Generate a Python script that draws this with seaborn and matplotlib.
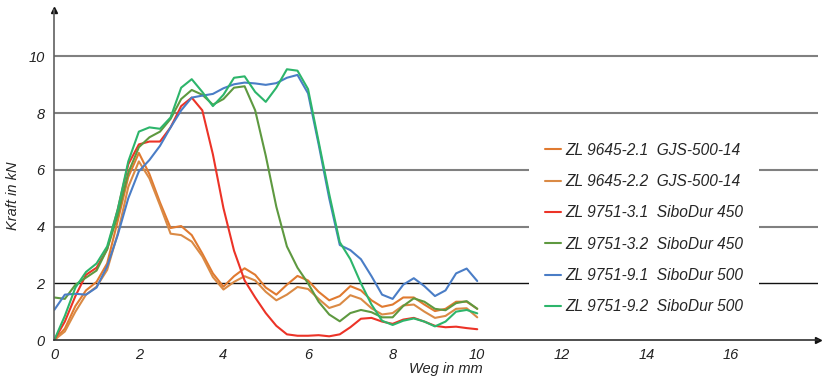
import numpy as np
import pandas as pd
import matplotlib
matplotlib.use("Agg")
import matplotlib.pyplot as plt
import seaborn as sns

# ---------------- data ----------------
weg = [0.0, 0.25, 0.5, 0.75, 1.0, 1.25, 1.5, 1.75, 2.0, 2.25, 2.5, 2.75, 3.0, 3.25,
       3.5, 3.75, 4.0, 4.25, 4.5, 4.75, 5.0, 5.25, 5.5, 5.75, 6.0, 6.25, 6.5, 6.75,
       7.0, 7.25, 7.5, 7.75, 8.0, 8.25, 8.5, 8.75, 9.0, 9.25, 9.5, 9.75, 10.0]

zl_9645_21 = [0.0, 0.4, 1.2, 1.75, 2.05, 2.7, 4.2, 5.75, 6.6, 5.85, 4.85, 3.95, 4.02, 3.7,
              3.05, 2.35, 1.88, 2.25, 2.53, 2.3, 1.85, 1.6, 1.95, 2.26, 2.1, 1.7, 1.4, 1.55,
              1.9, 1.75, 1.4, 1.17, 1.25, 1.5, 1.5, 1.25, 1.02, 1.1, 1.35, 1.35, 1.1]
zl_9645_22 = [0.0, 0.3, 1.0, 1.6, 1.88, 2.47, 3.75, 5.4, 6.3, 5.7, 4.75, 3.75, 3.7, 3.47,
              2.95, 2.22, 1.78, 2.05, 2.25, 2.1, 1.7, 1.4, 1.6, 1.87, 1.8, 1.45, 1.13, 1.25,
              1.58, 1.45, 1.12, 0.9, 0.95, 1.22, 1.25, 1.0, 0.78, 0.85, 1.1, 1.12, 0.8]
zl_9751_31 = [0.0, 0.65, 1.55, 2.3, 2.55, 3.2, 4.6, 6.2, 6.9, 7.0, 7.0, 7.5, 8.25, 8.55,
              8.1, 6.55, 4.65, 3.15, 2.1, 1.5, 0.95, 0.5, 0.2, 0.15, 0.15, 0.17, 0.13, 0.2,
              0.45, 0.75, 0.78, 0.65, 0.57, 0.72, 0.78, 0.65, 0.5, 0.45, 0.47, 0.42, 0.38]
zl_9751_32 = [1.5, 1.45, 1.95, 2.2, 2.45, 3.2, 4.4, 5.9, 6.8, 7.15, 7.35, 7.8, 8.5, 8.82,
              8.65, 8.3, 8.5, 8.9, 8.95, 8.1, 6.5, 4.7, 3.3, 2.55, 2.0, 1.35, 0.9, 0.66,
              0.95, 1.06, 0.98, 0.8, 0.8, 1.2, 1.47, 1.35, 1.1, 1.05, 1.3, 1.37, 1.1]
zl_9751_91 = [1.06, 1.6, 1.63, 1.6, 1.85, 2.6, 3.7, 5.0, 5.95, 6.35, 6.85, 7.5, 8.1, 8.55,
              8.62, 8.68, 8.88, 9.02, 9.08, 9.05, 9.0, 9.06, 9.25, 9.35, 8.7, 6.9, 5.0, 3.35,
              3.17, 2.85, 2.25, 1.6, 1.45, 1.95, 2.18, 1.9, 1.55, 1.75, 2.35, 2.52, 2.08]
zl_9751_92 = [0.0, 0.85, 1.85, 2.4, 2.7, 3.3, 4.6, 6.3, 7.35, 7.5, 7.45, 7.85, 8.9, 9.2,
              8.75, 8.25, 8.65, 9.25, 9.3, 8.75, 8.4, 8.9, 9.55, 9.5, 8.85, 7.0, 5.15, 3.45,
              2.85, 2.0, 1.25, 0.68, 0.53, 0.68, 0.76, 0.65, 0.48, 0.65, 1.0, 1.06, 0.94]

series_names = ["ZL 9645-2.1  GJS-500-14", "ZL 9645-2.2  GJS-500-14",
                "ZL 9751-3.1  SiboDur 450", "ZL 9751-3.2  SiboDur 450",
                "ZL 9751-9.1  SiboDur 500", "ZL 9751-9.2  SiboDur 500"]
series_values = [zl_9645_21, zl_9645_22, zl_9751_31, zl_9751_32, zl_9751_91, zl_9751_92]
colors = ["#E07A30", "#DA8A45", "#EC3327", "#5E9940", "#4A7DC6", "#2DB56B"]

x_ticks = [0, 2, 4, 6, 8, 10, 12, 14, 16]
y_ticks = [0, 2, 4, 6, 8, 10]

# ---------------- build table ----------------
frames = []
for name, vals in zip(series_names, series_values):
    frames.append(pd.DataFrame({"Weg": weg, "Kraft": vals, "Serie": name}))
df = pd.concat(frames, ignore_index=True)

# ---------------- style ----------------
sns.set_style("white")
plt.rcParams["font.family"] = ["Liberation Sans", "DejaVu Sans"]
plt.rcParams["font.style"] = "italic"

fig = plt.figure(figsize=(8.26, 3.79), dpi=100)
ax = fig.add_axes([0.0657, 0.1029, 0.9243, 0.8707])

sns.lineplot(data=df, x="Weg", y="Kraft", hue="Serie", hue_order=series_names,
             palette=colors, estimator=None, sort=False, linewidth=1.5, ax=ax,
             solid_joinstyle="round", solid_capstyle="round")

ax.set_xlim(0, 18.05)
ax.set_ylim(0, 11.64)
ax.set_xticks(x_ticks)
ax.set_yticks(y_ticks)
ax.tick_params(axis="x", length=4, width=1, color="#555555", labelsize=10.5,
               pad=2, labelcolor="#222222")
ax.tick_params(axis="y", length=0, labelsize=10.5, pad=7, labelcolor="#222222")

# grid
ax.grid(axis="y", color="#808080", linewidth=1.5)
ax.grid(axis="x", visible=False)
ax.set_axisbelow(True)
for tick_val, gl in zip(y_ticks, ax.get_ygridlines()):
    if tick_val == 2:
        gl.set_color("#111111")
        gl.set_linewidth(1.0)
    if tick_val == 0:
        gl.set_visible(False)

# spines & arrows
for s in ["top", "right"]:
    ax.spines[s].set_visible(False)
ax.spines["left"].set_color("#606060")
ax.spines["bottom"].set_color("#303030")
ax.spines["left"].set_linewidth(1.2)
ax.spines["bottom"].set_linewidth(1.2)
ax.plot(1, 0, ">", color="#111111", markersize=5, transform=ax.get_yaxis_transform(),
        clip_on=False)
ax.plot(0, 1, "^", color="#111111", markersize=5, transform=ax.get_xaxis_transform(),
        clip_on=False)

ax.set_xlabel("Weg in mm", fontsize=10.5)
ax.xaxis.set_label_coords(0.513, -0.066)
ax.set_ylabel("Kraft in kN", fontsize=10.5)
ax.yaxis.set_label_coords(-0.045, 0.436)

handles, labels = ax.get_legend_handles_labels()
leg = ax.legend(handles, labels, loc="center left", bbox_to_anchor=(0.641, 0.397),
                bbox_transform=fig.transFigure, fontsize=11.2, frameon=True,
                facecolor="white", edgecolor="none", framealpha=1,
                handlelength=1.03, handletextpad=0.32, labelspacing=1.05,
                borderpad=0.98, borderaxespad=0)
for line in leg.get_lines():
    line.set_linewidth(1.5)

fig.savefig("out.png", dpi=100)
